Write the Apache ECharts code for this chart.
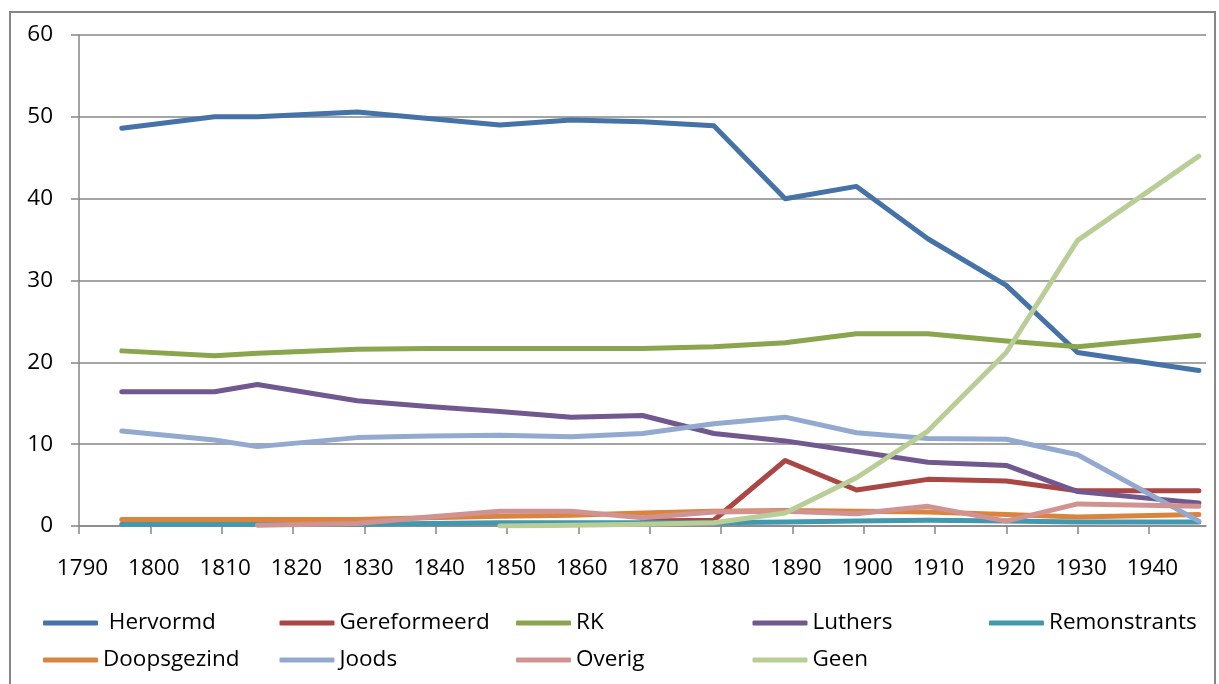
<!DOCTYPE html>
<html>
<head>
<meta charset="utf-8">
<script src="https://cdn.jsdelivr.net/npm/echarts@6/dist/echarts.min.js"></script>
<style>
  html, body { margin: 0; padding: 0; background: #ffffff; }
  #chart { width: 1219px; height: 684px; }
</style>
</head>
<body>
<div id="chart"></div>
<script>
// ---- data ----
const years = [1796, 1809, 1815, 1829, 1839, 1849, 1859, 1869, 1879, 1889, 1899, 1909, 1920, 1930, 1947];
const xTicks = [1790, 1800, 1810, 1820, 1830, 1840, 1850, 1860, 1870, 1880, 1890, 1900, 1910, 1920, 1930, 1940];
const yTicks = [0, 10, 20, 30, 40, 50, 60];

const seriesNames = ['Hervormd', 'Gereformeerd', 'RK', 'Luthers', 'Remonstrants', 'Doopsgezind', 'Joods', 'Overig', 'Geen'];

const hervormd     = [48.6, 50.0, 50.0, 50.6, 49.8, 49.0, 49.6, 49.4, 48.9, 40.0, 41.5, 35.1, 29.4, 21.2, 19.0];
const gereformeerd = [null, null, null, null, null, null, null, 0.6, 0.7, 8.0, 4.4, 5.7, 5.5, 4.3, 4.3];
const rk           = [21.4, 20.8, 21.1, 21.6, 21.7, 21.7, 21.7, 21.7, 21.9, 22.4, 23.5, 23.5, 22.6, 21.9, 23.3];
const luthers      = [16.4, 16.4, 17.3, 15.3, 14.6, 14.0, 13.3, 13.5, 11.3, 10.4, 9.1, 7.8, 7.4, 4.2, 2.8];
const remonstrants = [0.2, 0.2, 0.2, 0.2, 0.3, 0.4, 0.4, 0.4, 0.4, 0.5, 0.6, 0.7, 0.6, 0.5, 0.5];
const doopsgezind  = [0.8, 0.8, 0.8, 0.8, 1.0, 1.2, 1.3, 1.6, 1.8, 1.9, 1.8, 1.7, 1.4, 1.1, 1.4];
const joods        = [11.6, 10.5, 9.7, 10.8, 11.0, 11.1, 10.9, 11.3, 12.5, 13.3, 11.4, 10.7, 10.6, 8.7, 0.6];
const overig       = [null, null, 0.1, 0.3, 1.1, 1.8, 1.8, 1.0, 1.7, 1.8, 1.5, 2.4, 0.6, 2.7, 2.4];
const geen         = [null, null, null, null, null, 0.0, 0.1, 0.2, 0.4, 1.6, 5.9, 11.6, 21.2, 34.9, 45.2];

const seriesValues = [hervormd, gereformeerd, rk, luthers, remonstrants, doopsgezind, joods, overig, geen];
const colors = ['#4572A7', '#AA4643', '#89A54E', '#71588F', '#4198AF', '#DB843D', '#93A9CF', '#D19392', '#B9CD96'];

// ---- chart ----
const FONT = '"Open Sans"';
const chart = echarts.init(document.getElementById('chart'), null, { renderer: 'canvas' });

function pairs(vals) {
  const out = [];
  vals.forEach((v, i) => { if (v !== null) out.push([years[i], v]); });
  return out;
}

const series = seriesNames.map((name, i) => ({
  name: name,
  type: 'line',
  data: pairs(seriesValues[i]),
  showSymbol: false,
  symbol: 'none',
  smooth: false,
  animation: false,
  lineStyle: { width: 5, color: colors[i], cap: 'round', join: 'round' },
  itemStyle: { color: colors[i] },
  emphasis: { disabled: true }
}));

const legendCommon = {
  orient: 'horizontal',
  left: 43,
  width: 1200,
  padding: 0,
  itemWidth: 55,
  itemHeight: 5,
  itemGap: 0,
  icon: 'roundRect',
  selectedMode: false,
  textStyle: { fontFamily: FONT, fontSize: 22.5, color: '#000', width: 176.5, lineHeight: 28, overflow: 'none' },
  formatter: function (n) { return n === 'Hervormd' ? ' ' + n : n; }
};

chart.setOption({
  animation: false,
  backgroundColor: '#ffffff',
  color: colors,
  grid: { left: 79, top: 35, right: 13, bottom: 158, containLabel: false },
  xAxis: {
    type: 'value',
    min: 1790,
    max: 1948,
    interval: 10,
    axisLine: { show: true, lineStyle: { color: '#868686', width: 1.5 } },
    axisTick: { show: true, length: 8, lineStyle: { color: '#868686', width: 1.5 }, customValues: xTicks },
    axisLabel: {
      customValues: xTicks,
      margin: 31,
      padding: [0, 0, 0, 7],
      fontFamily: FONT, fontSize: 22.5, lineHeight: 23, color: '#000',
      formatter: function (v) { return String(v); }
    },
    splitLine: { show: false }
  },
  yAxis: {
    type: 'value',
    min: 0,
    max: 60,
    interval: 10,
    axisLine: { show: true, lineStyle: { color: '#868686', width: 1.5 } },
    axisTick: { show: true, length: 8, lineStyle: { color: '#868686', width: 1.5 }, customValues: yTicks },
    axisLabel: { customValues: yTicks, margin: 26, fontFamily: FONT, fontSize: 22.5, color: '#000' },
    splitLine: { show: true, lineStyle: { color: '#868686', width: 1.5 } }
  },
  legend: [
    Object.assign({}, legendCommon, { top: 609, data: seriesNames.slice(0, 5) }),
    Object.assign({}, legendCommon, { top: 646, data: seriesNames.slice(5) })
  ],
  graphic: [{
    type: 'rect',
    shape: { x: 10, y: 12, width: 1205, height: 700 },
    style: { fill: 'none', stroke: '#878787', lineWidth: 2 },
    silent: true,
    z: -10
  }],
  series: series
});
</script>
</body>
</html>
